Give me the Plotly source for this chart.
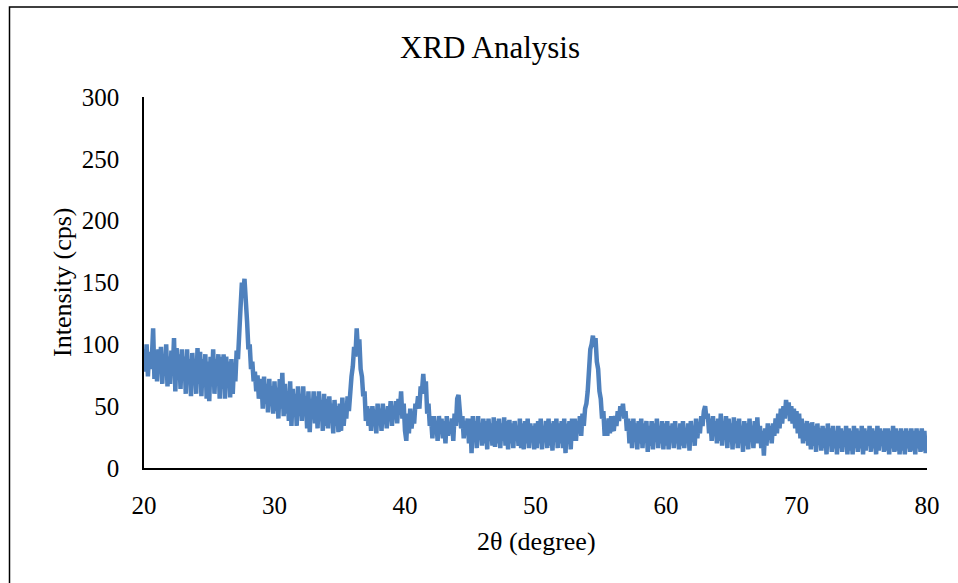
import numpy as np
import plotly.graph_objects as go

# 2-theta grid (degrees), 0.1 degree step from 20 to 80
two_theta_start = 20.0
two_theta_step = 0.1

# Intensity (cps), one row per degree
rows = [
    [96, 78, 100, 74, 94, 80, 88, 113, 72, 95],    # 20
    [70, 96, 80, 98, 68, 92, 76, 100, 66, 90],     # 21
    [68, 95, 78, 105, 62, 97, 74, 92, 64, 96],     # 22
    [72, 90, 60, 96, 68, 88, 58, 93, 75, 86],      # 23
    [60, 97, 68, 94, 58, 88, 72, 92, 56, 86],      # 24
    [54, 90, 66, 96, 60, 88, 74, 92, 56, 90],      # 25
    [64, 92, 56, 90, 68, 86, 57, 88, 60, 84],      # 26
    [70, 95, 88, 118, 130, 150, 140, 153, 126, 118],  # 27
    [96, 100, 80, 86, 70, 78, 62, 75, 56, 70],     # 28
    [72, 48, 74, 52, 68, 45, 72, 50, 66, 44],      # 29
    [70, 46, 65, 40, 72, 48, 77, 42, 68, 44],      # 30
    [62, 38, 70, 34, 64, 44, 60, 34, 66, 42],      # 31
    [60, 38, 66, 42, 58, 32, 62, 29, 56, 40],      # 32
    [62, 36, 58, 32, 62, 40, 55, 30, 60, 34],      # 33
    [56, 32, 58, 38, 52, 28, 55, 34, 50, 29],      # 34
    [52, 30, 57, 34, 48, 40, 58, 46, 65, 74],      # 35
    [82, 98, 90, 113, 94, 104, 80, 74, 58, 62],    # 36
    [38, 50, 34, 48, 30, 50, 40, 46, 28, 52],      # 37
    [36, 48, 30, 52, 38, 46, 32, 50, 40, 54],      # 38
    [34, 50, 42, 54, 36, 56, 44, 62, 40, 52],      # 39
    [30, 22, 44, 28, 48, 32, 42, 36, 52, 48],      # 40
    [58, 48, 66, 62, 76, 60, 70, 44, 52, 34],      # 41
    [40, 24, 42, 28, 38, 22, 42, 30, 40, 24],      # 42
    [38, 20, 42, 26, 36, 28, 40, 22, 44, 34],      # 43
    [56, 59, 46, 32, 42, 24, 38, 28, 40, 20],      # 44
    [40, 12, 42, 24, 38, 16, 42, 26, 36, 18],      # 45
    [40, 20, 38, 15, 40, 22, 36, 18, 41, 17],      # 46
    [38, 20, 40, 16, 36, 22, 41, 18, 38, 15],      # 47
    [39, 20, 36, 16, 38, 22, 34, 18, 40, 16],      # 48
    [36, 15, 38, 20, 40, 16, 36, 22, 34, 15],      # 49
    [36, 16, 38, 20, 40, 15, 34, 22, 38, 16],      # 50
    [40, 18, 36, 14, 38, 22, 40, 16, 36, 20],      # 51
    [38, 16, 40, 12, 36, 20, 38, 15, 40, 22],      # 52
    [40, 22, 38, 28, 42, 26, 44, 34, 48, 52],      # 53
    [62, 80, 96, 100, 107, 98, 105, 86, 80, 62],   # 54
    [56, 40, 46, 26, 38, 26, 40, 28, 42, 32],      # 55
    [30, 42, 34, 46, 38, 50, 44, 52, 40, 46],      # 56
    [30, 40, 20, 38, 16, 40, 22, 36, 15, 38],      # 57
    [20, 40, 16, 36, 22, 38, 13, 34, 18, 38],      # 58
    [15, 36, 22, 40, 16, 34, 20, 38, 15, 36],      # 59
    [18, 38, 15, 34, 22, 36, 16, 38, 20, 32],      # 60
    [15, 36, 18, 38, 16, 32, 22, 36, 14, 38],      # 61
    [22, 34, 18, 40, 24, 36, 28, 42, 34, 46],      # 62
    [50, 40, 44, 28, 40, 22, 42, 26, 38, 20],      # 63
    [40, 22, 44, 18, 38, 26, 42, 16, 40, 24],      # 64
    [36, 15, 41, 20, 38, 16, 40, 22, 34, 13],      # 65
    [38, 18, 36, 15, 40, 22, 34, 16, 38, 20],      # 66
    [41, 20, 34, 16, 30, 10, 32, 18, 36, 24],      # 67
    [34, 20, 36, 26, 40, 28, 44, 32, 48, 36],      # 68
    [50, 40, 55, 44, 53, 38, 50, 36, 48, 32],      # 69
    [46, 28, 44, 24, 40, 20, 36, 22, 38, 18],      # 70
    [36, 15, 37, 18, 34, 13, 36, 20, 32, 14],      # 71
    [34, 16, 32, 11, 36, 18, 32, 13, 34, 16],      # 72
    [30, 11, 34, 16, 32, 13, 30, 18, 34, 11],      # 73
    [32, 14, 30, 11, 34, 16, 32, 13, 30, 16],      # 74
    [34, 11, 32, 14, 30, 18, 34, 13, 32, 16],      # 75
    [30, 11, 34, 14, 32, 18, 30, 13, 32, 14],      # 76
    [32, 11, 30, 16, 34, 13, 32, 14, 30, 11],      # 77
    [32, 14, 30, 11, 32, 16, 30, 13, 32, 14],      # 78
    [30, 11, 32, 16, 30, 13, 32, 14, 30, 12],      # 79
    [26],                                          # 80
]
intensity = [v for r in rows for v in r]
two_theta = [round(two_theta_start + two_theta_step * i, 1) for i in range(len(intensity))]

x_ticks = [20, 30, 40, 50, 60, 70, 80]
y_ticks = [0, 50, 100, 150, 200, 250, 300]

title_text = "XRD Analysis"
x_title = "2θ (degree)"
y_title = "Intensity (cps)"

FONT = "Liberation Serif, Times New Roman, serif"
W, H = 958, 583
L, R, T, B = 144, 31, 97, 115
pw, ph = W - L - R, H - T - B

def px_to_paper_x(px):
    return (px - L) / pw

def px_to_paper_y(py):
    return (H - B - py) / ph

fig = go.Figure()
fig.add_trace(go.Scatter(
    x=two_theta, y=intensity, mode="lines",
    line=dict(color="#4F81BD", width=4.5),
    showlegend=False, hoverinfo="skip",
))

fig.update_layout(
    width=W, height=H,
    margin=dict(l=L, r=R, t=T, b=B),
    paper_bgcolor="white", plot_bgcolor="white",
    font=dict(family=FONT, color="black", size=25),
    showlegend=False,
)
fig.update_xaxes(
    range=[20, 80], tickvals=x_ticks, ticktext=[str(v) for v in x_ticks],
    showline=True, linecolor="black", linewidth=1.5,
    showgrid=False, zeroline=False, ticks="",
    ticklabelstandoff=14,
    tickfont=dict(family=FONT, size=25, color="black"),
)
fig.update_yaxes(
    range=[0, 300], tickvals=y_ticks, ticktext=[str(v) for v in y_ticks],
    showline=True, linecolor="black", linewidth=1.5,
    showgrid=False, zeroline=False, ticks="",
    ticklabelstandoff=18,
    tickfont=dict(family=FONT, size=25, color="black"),
)

annotations = [
    dict(text=title_text, x=px_to_paper_x(490), y=px_to_paper_y(47),
         xref="paper", yref="paper", showarrow=False,
         xanchor="center", yanchor="middle",
         font=dict(family=FONT, size=31, color="black")),
    dict(text=x_title, x=px_to_paper_x(536), y=px_to_paper_y(541),
         xref="paper", yref="paper", showarrow=False,
         xanchor="center", yanchor="middle",
         font=dict(family=FONT, size=26, color="black")),
    dict(text=y_title, x=px_to_paper_x(62), y=px_to_paper_y(283),
         xref="paper", yref="paper", showarrow=False, textangle=-90,
         xanchor="center", yanchor="middle",
         font=dict(family=FONT, size=26, color="black")),
]
fig.update_layout(annotations=annotations)

fig.add_shape(
    type="rect", xref="paper", yref="paper",
    x0=px_to_paper_x(9.5), x1=px_to_paper_x(975),
    y0=px_to_paper_y(600), y1=px_to_paper_y(7),
    line=dict(color="black", width=1.5), fillcolor="rgba(0,0,0,0)",
    layer="below",
)

fig.write_html("out.html")
